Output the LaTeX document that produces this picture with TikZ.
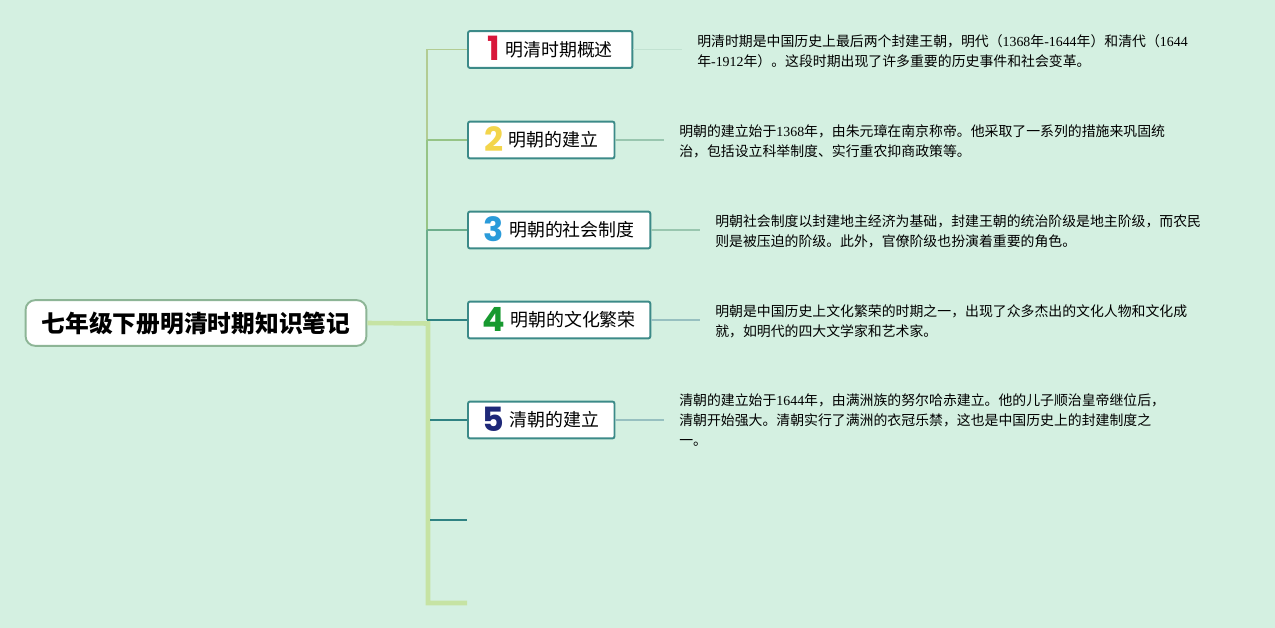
\documentclass[tikz,border=0pt]{standalone}
\usepackage{fontspec}
\setmainfont{Liberation Serif}
\newfontfamily\cjk{Noto Sans CJK SC}
\newfontfamily\numfont{Poppins}
\usepackage{tikz}
\usetikzlibrary{calc, positioning}
\definecolor{mapbg}{HTML}{D4F0E1}
\definecolor{rootedge}{HTML}{8DB596}
\definecolor{topicedge}{HTML}{3C8A88}
\definecolor{spinelt}{HTML}{C6E3A3}
\definecolor{spinemd}{HTML}{96C486}
\definecolor{spinegr}{HTML}{6DAE8C}
\definecolor{spinetl}{HTML}{2F8282}
\definecolor{desclink}{HTML}{A6D6BE}
\definecolor{numred}{HTML}{D8173A}
\definecolor{numyel}{HTML}{F3D54B}
\definecolor{numblu}{HTML}{2A9BDA}
\definecolor{numgrn}{HTML}{17992F}
\definecolor{numnav}{HTML}{1E2878}
\newcommand{\topicnum}[2]{\smash{\raisebox{-2.4pt}{\numfont\bfseries\fontsize{19}{19}\selectfont\color{#1}#2}}\hspace{3pt}}
\newcommand{\yr}[1]{{\rmfamily #1}}
\tikzset{
  rootbox/.style  = {draw=rootedge, fill=white, line width=1.1pt, rounded corners=5.5pt,
                     minimum width=194pt, minimum height=26pt, inner sep=0pt,
                     font=\cjk\fontsize{13.5}{16}\selectfont\bfseries},
  topicbox/.style = {draw=topicedge, fill=white, line width=1.1pt, rounded corners=1.2pt,
                     minimum height=21pt, inner sep=0pt, anchor=west,
                     font=\cjk\fontsize{10.2}{12}\selectfont},
  desctext/.style = {font=\cjk\fontsize{7.9}{11.3}\selectfont, align=left, anchor=west,
                     inner xsep=8.5pt, inner ysep=0pt},
  thinlink/.style = {line width=1.1pt},
  tealink/.style  = {draw=spinetl, line width=1.6pt},
  thicklink/.style= {draw=spinelt, line width=2.6pt},
}
\begin{document}
\begin{tikzpicture}[x=0.02cm, y=-0.02cm]
  \fill[mapbg] (0,0) rectangle (1275,628);
  \useasboundingbox (0,0) rectangle (1275,628);
  % root and topics
  \node[rootbox] (root) at (196,323) {七年级下册明清时期知识笔记};
  \node[topicbox, minimum width=93.6pt] (t1) at (467,49.5) {\topicnum{numred}{1}明清时期概述};
  \node[topicbox, minimum width=83.4pt] (t2) at (467,140) {\topicnum{numyel}{2}明朝的建立};
  \node[topicbox, minimum width=103.8pt] (t3) at (467,230) {\topicnum{numblu}{3}明朝的社会制度};
  \node[topicbox, minimum width=103.8pt] (t4) at (467,320) {\topicnum{numgrn}{4}明朝的文化繁荣};
  \node[topicbox, minimum width=83.4pt] (t5) at (467,420) {\topicnum{numnav}{5}清朝的建立};
  \coordinate (e6) at (467,520);
  \coordinate (e7) at (467,603);
  % descriptions
  \node[desctext] (d1) at (682,51.5) {明清时期是中国历史上最后两个封建王朝，明代（\yr{1368}年\yr{-1644}年）和清代（\yr{1644}\\年\yr{-1912}年）。这段时期出现了许多重要的历史事件和社会变革。};
  \node[desctext] (d2) at (664,141) {明朝的建立始于\yr{1368}年，由朱元璋在南京称帝。他采取了一系列的措施来巩固统\\治，包括设立科举制度、实行重农抑商政策等。};
  \node[desctext] (d3) at (700,231) {明朝社会制度以封建地主经济为基础，封建王朝的统治阶级是地主阶级，而农民\\则是被压迫的阶级。此外，官僚阶级也扮演着重要的角色。};
  \node[desctext] (d4) at (700,321) {明朝是中国历史上文化繁荣的时期之一，出现了众多杰出的文化人物和文化成\\就，如明代的四大文学家和艺术家。};
  \node[desctext] (d5) at (664,420) {清朝的建立始于\yr{1644}年，由满洲族的努尔哈赤建立。他的儿子顺治皇帝继位后，\\清朝开始强大。清朝实行了满洲的衣冠乐禁，这也是中国历史上的封建制度之\\一。};
  % spine
  \coordinate (j1) at (427,49.5);
  \coordinate (j2) at (427,140);
  \coordinate (j3) at (427,230);
  \coordinate (j4) at (427,320);
  \coordinate (jr) at (428,323.5);
  \coordinate (j5) at (430,420);
  \coordinate (j6) at (430,520);
  \draw[thinlink, draw=spinelt!90!black] (j1) -- (j2);
  \draw[thinlink, draw=spinemd] (j2) -- (j3);
  \draw[thinlink, draw=spinegr] (j3) -- (j4);
  \draw[thinlink, draw=spinelt!90!black] (j1) -- (t1.west);
  \draw[thinlink, draw=spinemd] (j2) -- (t2.west);
  \draw[thinlink, draw=spinegr] (j3) -- (t3.west);
  \draw[tealink] ($(j4)+(-0.5,0)$) -- (t4.west);
  \draw[thicklink] (root.east) -- (jr) -- (jr |- e7) -- (e7);
  \draw[tealink] (j5) -- (t5.west);
  \draw[tealink] (j6) -- (e6);
  % links to descriptions
  \draw[thinlink, draw=desclink!70!white] (t1.east) -- (t1.east -| d1.west);
  \draw[thinlink, draw=spinegr!70] (t2.east) -- (t2.east -| d2.west);
  \draw[thinlink, draw=spinegr!70] (t3.east) -- (t3.east -| d3.west);
  \draw[thinlink, draw=spinetl!50] (t4.east) -- (t4.east -| d4.west);
  \draw[thinlink, draw=spinetl!50] (t5.east) -- (t5.east -| d5.west);
\end{tikzpicture}
\end{document}
